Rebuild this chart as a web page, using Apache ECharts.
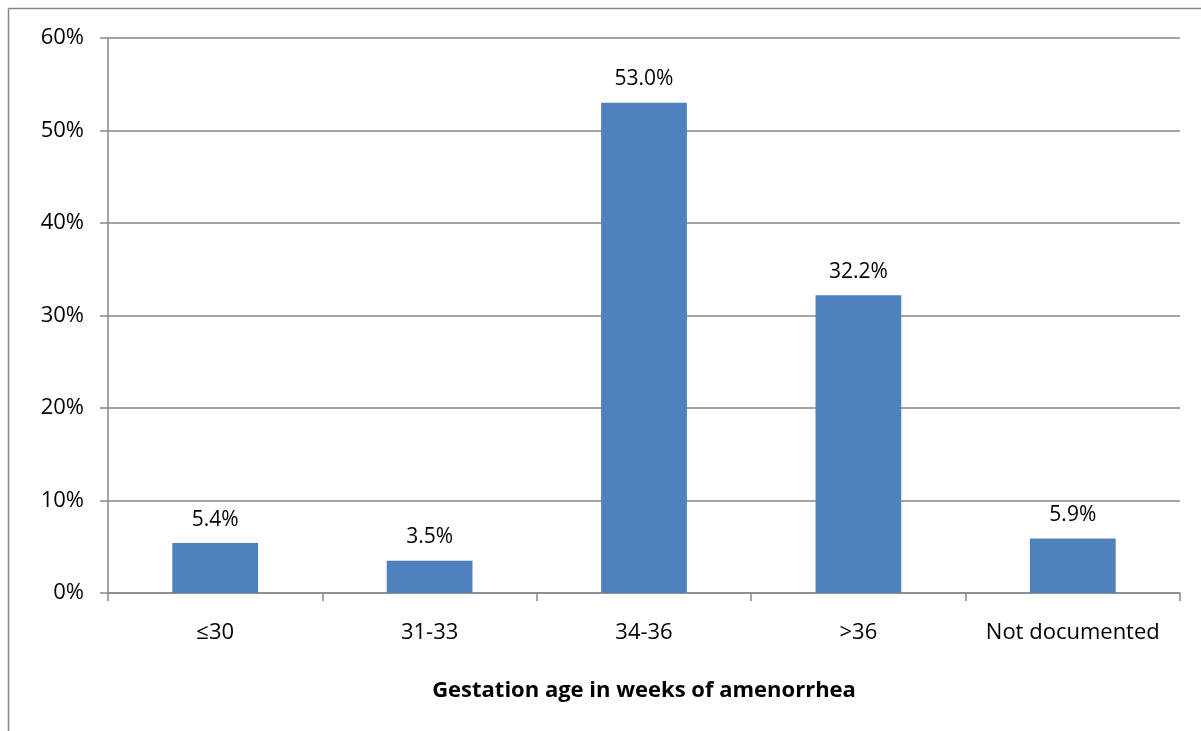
<!DOCTYPE html>
<html>
<head>
<meta charset="utf-8">
<script src="https://cdn.jsdelivr.net/npm/echarts@6/dist/echarts.min.js"></script>
<style>
  html, body { margin: 0; padding: 0; background: #ffffff; }
  #chart { width: 1201px; height: 731px; }
</style>
</head>
<body>
<div id="chart"></div>
<script>
// Gestational age groups and share of cases (%)
const categories = ['≤30', '31-33', '34-36', '>36', 'Not documented'];
const shares = [5.4, 3.5, 53.0, 32.2, 5.9];
const yTicks = { min: 0, max: 60, step: 10 };
const xTitle = 'Gestation age in weeks of amenorrhea';

const FONT = '"Open Sans", "Liberation Sans", Arial, sans-serif';
const GRID_COLOR = '#868686';

const chart = echarts.init(document.getElementById('chart'), null, { renderer: 'canvas' });
chart.setOption({
  animation: false,
  backgroundColor: '#ffffff',
  textStyle: { fontFamily: FONT },
  grid: { left: 108, top: 38, right: 21, bottom: 138, containLabel: false },
  graphic: [
    // outer chart frame (top and left edges)
    { type: 'line', silent: true, shape: { x1: 8.5, y1: 8.5, x2: 1201, y2: 8.5 },
      style: { stroke: GRID_COLOR, lineWidth: 1.5 } },
    { type: 'line', silent: true, shape: { x1: 8.5, y1: 8.5, x2: 8.5, y2: 731 },
      style: { stroke: GRID_COLOR, lineWidth: 1.5 } }
  ],
  xAxis: {
    type: 'category',
    data: categories,
    boundaryGap: true,
    name: xTitle,
    nameLocation: 'middle',
    nameGap: 87,
    nameTextStyle: { fontFamily: FONT, fontSize: 22, fontWeight: 'bold', color: '#000' },
    axisLine: { lineStyle: { color: GRID_COLOR, width: 1.5 } },
    axisTick: { show: true, interval: 0, length: 8, lineStyle: { color: GRID_COLOR, width: 1.5 } },
    axisLabel: { interval: 0, hideOverlap: false, fontFamily: FONT, fontSize: 22, color: '#000', margin: 29 }
  },
  yAxis: {
    type: 'value',
    min: yTicks.min,
    max: yTicks.max,
    interval: yTicks.step,
    axisLine: { show: true, lineStyle: { color: GRID_COLOR, width: 1.5 } },
    axisTick: { show: true, length: 8, lineStyle: { color: GRID_COLOR, width: 1.5 } },
    splitLine: { show: true, lineStyle: { color: GRID_COLOR, width: 1.5 } },
    axisLabel: { fontFamily: FONT, fontSize: 22, color: '#000', margin: 24,
                 formatter: v => v + '%' }
  },
  series: [{
    type: 'bar',
    data: shares,
    barWidth: '40%',
    itemStyle: { color: '#4F81BD' },
    label: {
      show: true,
      position: 'top',
      distance: 13,
      fontFamily: FONT,
      fontSize: 21,
      color: '#000',
      formatter: p => p.value.toFixed(1) + '%'
    }
  }]
});
</script>
</body>
</html>
